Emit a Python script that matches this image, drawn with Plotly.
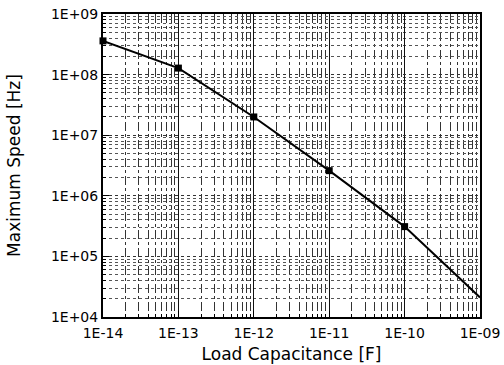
import plotly.graph_objects as go

cap = [1e-14, 1e-13, 1e-12, 1e-11, 1e-10, 1e-9]
speed = [3.6e8, 1.28e8, 2.0e7, 2.6e6, 3.1e5, 2.1e4]

x_ticks = [1e-14, 1e-13, 1e-12, 1e-11, 1e-10, 1e-9]
x_labels = ["1E-14", "1E-13", "1E-12", "1E-11", "1E-10", "1E-09"]
y_ticks = [1e4, 1e5, 1e6, 1e7, 1e8, 1e9]
y_labels = ["1E+04", "1E+05", "1E+06", "1E+07", "1E+08", "1E+09"]

x_minor = [k * d for d in x_ticks[:-1] for k in range(2, 10)]
y_minor = [k * d for d in y_ticks[:-1] for k in range(2, 10)]

font = "DejaVu Sans, sans-serif"

fig = go.Figure()
fig.add_trace(go.Scatter(
    x=cap, y=speed, mode="lines+markers",
    line=dict(color="black", width=2),
    marker=dict(symbol="square", size=7, color="black"),
    cliponaxis=False, showlegend=False,
))

fig.update_layout(
    width=504, height=365,
    margin=dict(l=103, r=24, t=14, b=48, autoexpand=False),
    paper_bgcolor="white", plot_bgcolor="white",
    font=dict(family=font, size=14, color="black"),
)
fig.update_xaxes(
    type="log", range=[-14, -9], automargin=False,
    tickmode="array", tickvals=x_ticks, ticktext=x_labels,
    ticks="inside", ticklen=6, tickcolor="black", tickwidth=1,
    ticklabelstandoff=2,
    showline=True, linecolor="black", linewidth=2, mirror=True,
    showgrid=True, gridcolor="#111", gridwidth=1,
    minor=dict(tickmode="array", tickvals=x_minor,
               ticks="inside", ticklen=3, tickcolor="black",
               showgrid=True, gridcolor="#333", griddash="dashdot", gridwidth=1),
    title=dict(text="Load Capacitance [F]",
               font=dict(family=font, size=17), standoff=8),
    tickfont=dict(family=font, size=14),
)
fig.update_yaxes(
    type="log", range=[4, 9], automargin=False,
    tickmode="array", tickvals=y_ticks, ticktext=y_labels,
    ticks="inside", ticklen=6, tickcolor="black", tickwidth=1,
    ticklabelstandoff=0,
    showline=True, linecolor="black", linewidth=2, mirror=True,
    showgrid=True, gridcolor="#333", gridwidth=1, griddash="dot",
    minor=dict(tickmode="array", tickvals=y_minor,
               ticks="inside", ticklen=3, tickcolor="black",
               showgrid=True, gridcolor="#555", griddash="dot", gridwidth=1),
    title=dict(text="Maximum Speed [Hz]",
               font=dict(family=font, size=17), standoff=26),
    tickfont=dict(family=font, size=14),
)

fig.write_html("out.html",
               config={"displayModeBar": False},
               post_script="document.body.style.margin='0';document.body.style.overflow='hidden';")
